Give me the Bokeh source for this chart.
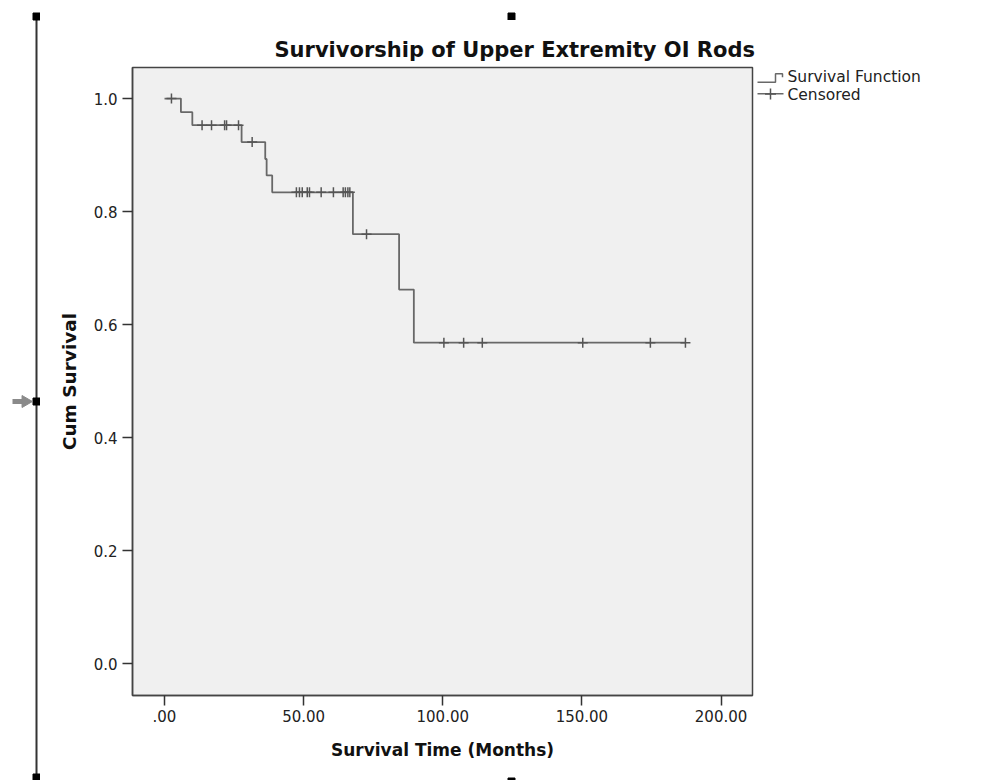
import math
from bokeh.plotting import figure
from bokeh.models import Range1d, FixedTicker
from bokeh.core.properties import value
from bokeh.layouts import row, column
from bokeh.embed import file_html
from bokeh.resources import INLINE

# ---- data ----
event_times = [0.0, 5.9, 10.0, 27.7, 36.2, 36.7, 38.7, 67.7, 84.3, 89.6]
survival = [1.0, 0.976, 0.953, 0.923, 0.893, 0.864, 0.834, 0.760, 0.662, 0.568]
censored_times = [2.5, 13.5, 16.9, 21.6, 22.3, 26.6, 31.5,
                  47.4, 48.5, 49.5, 51.3, 52.1, 56.3, 60.7,
                  64.2, 65.0, 65.9, 66.6, 72.6,
                  100.4, 107.5, 114.2, 150.3, 174.6, 187.2]

x_ticks = [0, 50, 100, 150, 200]
x_tick_labels = [".00", "50.00", "100.00", "150.00", "200.00"]
y_ticks = [0.0, 0.2, 0.4, 0.6, 0.8, 1.0]
y_tick_labels = ["0.0", "0.2", "0.4", "0.6", "0.8", "1.0"]

title_text = "Survivorship of Upper Extremity OI Rods"
x_label = "Survival Time (Months)"
y_label = "Cum Survival"
legend_labels = ["Survival Function", "Censored"]

# step function value at each censored time
def surv_at(t):
    s = survival[0]
    for et, sv in zip(event_times, survival):
        if et <= t:
            s = sv
    return s

censored_surv = [surv_at(t) for t in censored_times]
step_x = event_times + [censored_times[-1]]
step_y = survival + [survival[-1]]

FONT = "DejaVu Sans"
LINE_C = "#686868"
CROSS_C = "#555555"
H = 780
STRIP_W = 40            # left strip: editor selection handles
TOP_STRIP_H = 20        # strip above the chart (selection handle)
BOT_STRIP_H = 8         # strip below the chart (selection handle)
FRAME_TOP, FRAME_H, FRAME_W = 67, 628, 620
BOTTOM = H - FRAME_TOP - FRAME_H
MAIN_LEFT, MAIN_RIGHT = 92, 4
MAIN_W = MAIN_LEFT + FRAME_W + MAIN_RIGHT
LEG_X0 = STRIP_W + MAIN_W          # page x where legend strip starts
LEG_W = 984 - LEG_X0


def no_align(fig):
    if "frame_align" in fig.properties():
        fig.frame_align = False


def blank(fig):
    fig.outline_line_color = None
    fig.background_fill_color = "white"
    fig.border_fill_color = "white"
    fig.xgrid.visible = False
    fig.ygrid.visible = False
    no_align(fig)


# ---------------- main chart ----------------
p = figure(frame_width=FRAME_W, frame_height=FRAME_H,
           x_range=Range1d(-11.5, 211.3), y_range=Range1d(-0.0566, 1.055),
           output_backend="svg", toolbar_location=None,
           min_border_left=MAIN_LEFT, min_border_right=MAIN_RIGHT,
           min_border_top=FRAME_TOP - TOP_STRIP_H,
           min_border_bottom=BOTTOM - BOT_STRIP_H)
no_align(p)

p.background_fill_color = "#f0f0f0"
p.border_fill_color = "white"
p.outline_line_color = "#444444"
p.outline_line_width = 1.5
p.xgrid.visible = False
p.ygrid.visible = False

p.title.text = title_text
p.title.text_font = FONT
p.title.text_font_size = "21px"
p.title.text_font_style = "bold"
p.title.text_color = "#111111"
p.title.align = "left"
p.title.offset = 142
p.title.standoff = 12

p.xaxis.ticker = FixedTicker(ticks=x_ticks)
p.xaxis.major_label_overrides = {t: l for t, l in zip(x_ticks, x_tick_labels)}
p.yaxis.ticker = FixedTicker(ticks=y_ticks)
p.yaxis.major_label_overrides = {t: l for t, l in zip(y_ticks, y_tick_labels)}

for ax in (p.xaxis, p.yaxis):
    ax.axis_line_color = "#444444"
    ax.axis_line_width = 1.5
    ax.major_tick_line_color = "#333333"
    ax.major_tick_line_width = 1.5
    ax.major_tick_out = 10
    ax.major_tick_in = 0
    ax.minor_tick_line_color = None
    ax.major_label_text_font = FONT
    ax.major_label_text_font_size = "15px"
    ax.major_label_text_color = "#222222"
    ax.axis_label_text_font = FONT
    ax.axis_label_text_font_style = "bold"
    ax.axis_label_text_color = "#111111"

p.xaxis.axis_label = x_label
p.yaxis.axis_label = y_label
p.xaxis.axis_label_text_font_size = "17px"
p.yaxis.axis_label_text_font_size = "18.5px"
p.xaxis.major_label_standoff = 4
p.yaxis.major_label_standoff = 5
p.xaxis.axis_label_standoff = 15
p.yaxis.axis_label_standoff = 11

p.step(step_x, step_y, mode="after", line_color=LINE_C, line_width=1.8)
p.scatter(censored_times, censored_surv, marker="cross", size=10,
          line_color=CROSS_C, line_width=1.5)

# ---------------- legend strip (page-pixel coordinates) ----------------
L = figure(width=LEG_W, height=H,
           x_range=Range1d(LEG_X0, LEG_X0 + LEG_W),
           y_range=Range1d(FRAME_TOP + FRAME_H, FRAME_TOP),
           output_backend="svg", toolbar_location=None,
           x_axis_type=None, y_axis_type=None,
           min_border_left=0, min_border_right=0,
           min_border_top=FRAME_TOP, min_border_bottom=BOTTOM)
blank(L)
icon_x0, icon_x1, text_x = 757, 783, 787
row_y = [76.5, 94.5]
# step-shaped key for the survival function
L.line([icon_x0, 775, 775, 782, 782], [81.7, 81.7, 73.3, 73.3, 76.7],
       line_color=LINE_C, line_width=1.5)
# line + cross key for censored cases
L.line([icon_x0, icon_x1], [93.3, 93.3], line_color=LINE_C, line_width=1.5)
L.scatter([770], [93.5], marker="cross", size=11, line_color=CROSS_C, line_width=1.5)
L.text([text_x, text_x], row_y, text=legend_labels,
       text_font=value(FONT), text_font_size="15.5px", text_color="#222222",
       text_baseline="middle", text_align="left")

# ---------------- chart-editor selection handles ----------------
handle_x = 36
handle_y = [16, 401, 777]
d = figure(width=STRIP_W, height=H, x_range=Range1d(0, STRIP_W), y_range=Range1d(H, 0),
           output_backend="svg", toolbar_location=None,
           x_axis_type=None, y_axis_type=None, min_border=0)
blank(d)
d.segment(x0=[handle_x], y0=[handle_y[0]], x1=[handle_x], y1=[H],
          line_color="#333333", line_width=2)
d.scatter([handle_x] * 3, handle_y, marker="square", size=7,
          fill_color="black", line_color="black")
d.segment(x0=[12], y0=[handle_y[1]], x1=[24], y1=[handle_y[1]],
          line_color="#8a8a8a", line_width=5)
d.scatter([25], [handle_y[1]], marker="triangle", size=12, angle=-math.pi / 2,
          fill_color="#8a8a8a", line_color="#8a8a8a")

mid_handle_x = 511 - STRIP_W   # x of the top/bottom middle handles inside the strips
t_strip = figure(width=MAIN_W, height=TOP_STRIP_H,
                 x_range=Range1d(0, MAIN_W), y_range=Range1d(TOP_STRIP_H, 0),
                 output_backend="svg", toolbar_location=None,
                 x_axis_type=None, y_axis_type=None, min_border=0)
blank(t_strip)
t_strip.scatter([mid_handle_x], [handle_y[0]], marker="square", size=7,
                fill_color="black", line_color="black")

b_strip = figure(width=MAIN_W, height=BOT_STRIP_H,
                 x_range=Range1d(0, MAIN_W),
                 y_range=Range1d(H, H - BOT_STRIP_H),
                 output_backend="svg", toolbar_location=None,
                 x_axis_type=None, y_axis_type=None, min_border=0)
blank(b_strip)
b_strip.scatter([mid_handle_x], [handle_y[2]], marker="square", size=7,
                fill_color="black", line_color="black")

layout = row(d, column(t_strip, p, b_strip, spacing=0), L, spacing=0)
open("out.html", "w").write(file_html(layout, INLINE))
